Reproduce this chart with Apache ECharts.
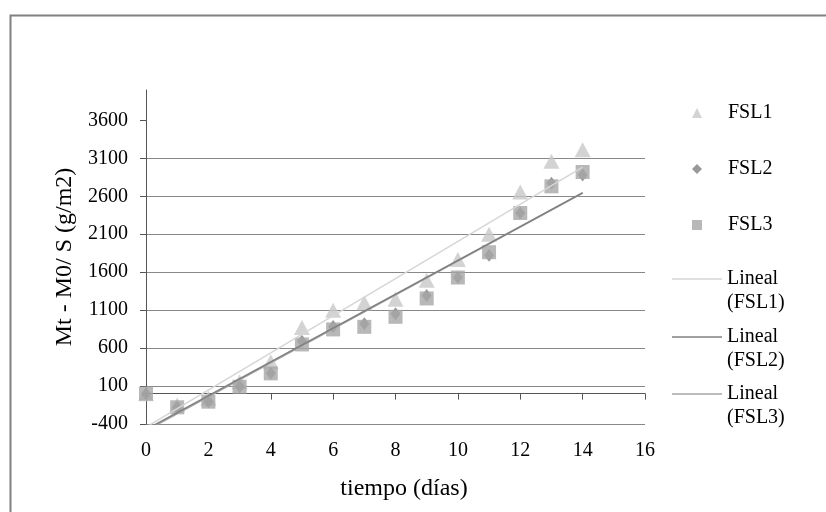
<!DOCTYPE html>
<html>
<head>
<meta charset="utf-8">
<script src="https://cdn.jsdelivr.net/npm/echarts@6/dist/echarts.min.js"></script>
<style>
html,body{margin:0;padding:0;background:#fff;}
#chart{width:826px;height:512px;}
</style>
</head>
<body>
<div id="chart"></div>
<script>
// ---- data ----
const dias = [0, 1, 2, 3, 4, 5, 6, 7, 8, 9, 10, 11, 12, 13, 14];
const fsl1 = [0, -150, -60, 157, 420, 872, 1100, 1196, 1245, 1495, 1767, 2100, 2657, 3060, 3214];
const fsl2 = [0, -180, -106, 91, 267, 690, 886, 920, 1052, 1294, 1530, 1823, 2380, 2771, 2880];
const fsl3 = [0, -180, -106, 91, 267, 648, 846, 880, 1012, 1254, 1530, 1863, 2380, 2731, 2920];
const yTicks = [-400, 100, 600, 1100, 1600, 2100, 2600, 3100, 3600];
const xTicks = [0, 2, 4, 6, 8, 10, 12, 14, 16];
const seriesNames = ['FSL1', 'FSL2', 'FSL3'];
const trendNames = ['Lineal (FSL1)', 'Lineal (FSL2)', 'Lineal (FSL3)'];

function pairs(xs, ys) { return xs.map((x, i) => [x, ys[i]]); }
// least-squares linear trend line (as the spreadsheet's "Lineal" trendline)
function trend(xs, ys) {
  const n = xs.length;
  const mx = xs.reduce((a, b) => a + b, 0) / n;
  const my = ys.reduce((a, b) => a + b, 0) / n;
  let sxy = 0, sxx = 0;
  for (let i = 0; i < n; i++) { sxy += (xs[i] - mx) * (ys[i] - my); sxx += (xs[i] - mx) * (xs[i] - mx); }
  const b = sxy / sxx, a = my - b * mx;
  const x0 = xs[0], x1 = xs[n - 1];
  return [[x0, a + b * x0], [x1, a + b * x1]];
}

const font = 'Liberation Serif, Times New Roman, serif';
const chart = echarts.init(document.getElementById('chart'));

function symbolLegend(name, icon, top) {
  return {
    data: [{ name: name, icon: icon }], left: 692, top: top, orient: 'vertical', padding: 0,
    itemWidth: 10, itemHeight: 10, itemGap: 0, selectedMode: false,
    textStyle: { fontFamily: font, fontSize: 20, color: '#000', padding: [0, 0, 0, 21] }
  };
}
function lineLegend(name, top) {
  return {
    data: [{ name: name, icon: 'rect' }], left: 672, top: top, orient: 'vertical', padding: 0,
    itemWidth: 50, itemHeight: 1.5, itemGap: 0, selectedMode: false,
    formatter: (n) => ' \n' + n.replace(' ', '\n'),
    textStyle: { fontFamily: font, fontSize: 20, color: '#000', lineHeight: 24 }
  };
}

chart.setOption({
  animation: false,
  backgroundColor: '#fff',
  graphic: [{
    type: 'rect', left: 8, top: 13, silent: true,
    shape: { x: 0, y: 0, width: 830, height: 520 },
    style: { fill: 'none', stroke: '#808080', lineWidth: 2 }
  }],
  grid: { left: 146, right: 181, top: 90, bottom: 88, containLabel: false },
  legend: [
    symbolLegend('FSL1', 'triangle', 103),
    symbolLegend('FSL2', 'diamond', 159),
    symbolLegend('FSL3', 'rect', 215),
    lineLegend('Lineal (FSL1)', 243),
    lineLegend('Lineal (FSL2)', 301),
    lineLegend('Lineal (FSL3)', 358)
  ],
  xAxis: [{
    type: 'value', min: 0, max: 16, interval: 2, position: 'bottom',
    axisLine: { show: true, onZero: true, lineStyle: { color: '#555', width: 1 } },
    axisTick: { show: true, length: 6, lineStyle: { color: '#555' }, customValues: xTicks },
    axisLabel: { show: false },
    splitLine: { show: false }
  }, {
    type: 'value', min: 0, max: 16, interval: 2, position: 'bottom',
    axisLine: { show: false, onZero: false },
    axisTick: { show: false },
    axisLabel: { show: true, margin: 17, fontFamily: font, fontSize: 20, color: '#000', customValues: xTicks },
    splitLine: { show: false },
    name: 'tiempo (días)', nameLocation: 'middle', nameGap: 53,
    nameTextStyle: { fontFamily: font, fontSize: 24, color: '#000', padding: [0, 0, 0, 17] }
  }],
  yAxis: {
    type: 'value', min: -400, max: 4000, interval: 500,
    axisLine: { show: true, onZero: false, lineStyle: { color: '#555', width: 1 } },
    axisTick: { show: true, length: 6, lineStyle: { color: '#555' }, customValues: yTicks },
    axisLabel: { margin: 18, fontFamily: font, fontSize: 20, color: '#000', customValues: yTicks,
      formatter: (v) => String(v) },
    splitLine: { show: true, showMaxLine: false, lineStyle: { color: '#888', width: 1 } },
    name: 'Mt - M0/ S (g/m2)', nameLocation: 'middle', nameGap: 66,
    nameTextStyle: { fontFamily: font, fontSize: 24, color: '#000' }
  },
  series: [
    { name: seriesNames[0], type: 'scatter', xAxisIndex: 0, symbol: 'triangle', symbolSize: [16, 15],
      itemStyle: { color: '#c8c8c8' }, data: pairs(dias, fsl1) },
    { name: seriesNames[1], type: 'scatter', xAxisIndex: 0, symbol: 'diamond', symbolSize: [10, 13],
      itemStyle: { color: '#808080' }, data: pairs(dias, fsl2) },
    { name: seriesNames[2], type: 'scatter', xAxisIndex: 0, symbol: 'rect', symbolSize: 14,
      itemStyle: { color: '#a6a6a6' }, data: pairs(dias, fsl3) },
    { name: trendNames[0], type: 'line', xAxisIndex: 0, symbol: 'none', z: 3, clip: true,
      lineStyle: { color: '#d6d6d6', width: 1.5 }, itemStyle: { color: '#d6d6d6' }, data: trend(dias, fsl1) },
    { name: trendNames[2], type: 'line', xAxisIndex: 0, symbol: 'none', z: 3, clip: true,
      lineStyle: { color: '#a6a6a6', width: 1.5 }, itemStyle: { color: '#a6a6a6' }, data: trend(dias, fsl3) },
    { name: trendNames[1], type: 'line', xAxisIndex: 0, symbol: 'none', z: 3, clip: true,
      lineStyle: { color: '#808080', width: 1.5 }, itemStyle: { color: '#808080' }, data: trend(dias, fsl2) }
  ]
});
</script>
</body>
</html>
